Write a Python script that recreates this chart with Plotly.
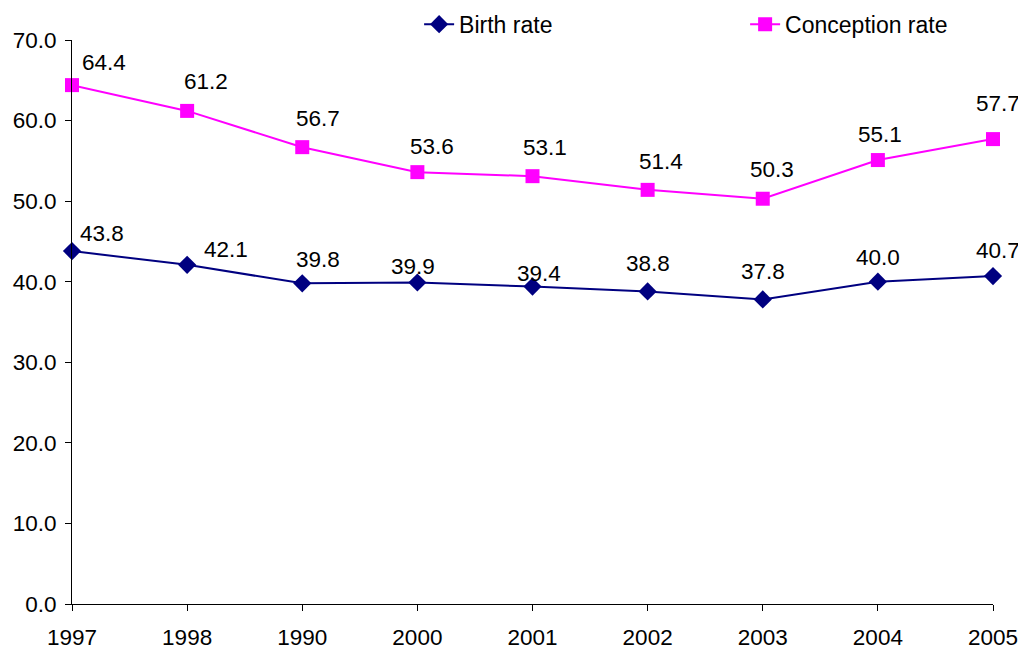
import plotly.graph_objects as go

years = ["1997", "1998", "1990", "2000", "2001", "2002", "2003", "2004", "2005"]
birth_rate = [43.8, 42.1, 39.8, 39.9, 39.4, 38.8, 37.8, 40.0, 40.7]
conception_rate = [64.4, 61.2, 56.7, 53.6, 53.1, 51.4, 50.3, 55.1, 57.7]

# label pixel offsets (style)
birth_dx = [30, 39, 16, -4, 6, 0, 0, 0, 5]
birth_dy = [18, 15, 24, 16, 13, 28, 28, 24, 26]
conc_dx = [32, 19, 16, 15, 12, 13, 9, 2, 5]
conc_dy = [23, 29, 29, 26, 29, 28, 29, 26, 36]

NAVY = "#000080"
MAGENTA = "#FF00FF"
FONT = "Liberation Sans, Arial, sans-serif"
FS = 22.5

fig = go.Figure()
fig.add_trace(go.Scatter(
    x=years, y=birth_rate, name="Birth rate", mode="lines+markers",
    line=dict(color=NAVY, width=2),
    marker=dict(symbol="diamond", size=14, color=NAVY),
    cliponaxis=False,
))
fig.add_trace(go.Scatter(
    x=years, y=conception_rate, name="Conception rate", mode="lines+markers",
    line=dict(color=MAGENTA, width=2),
    marker=dict(symbol="square", size=14, color=MAGENTA),
    cliponaxis=False,
))

annotations = []
for i, y in enumerate(years):
    annotations.append(dict(x=i, y=birth_rate[i], xref="x", yref="y",
                            text=f"{birth_rate[i]:.1f}",
                            showarrow=False, xshift=birth_dx[i], yshift=birth_dy[i],
                            font=dict(size=FS, color="black", family=FONT)))
    annotations.append(dict(x=i, y=conception_rate[i], xref="x", yref="y",
                            text=f"{conception_rate[i]:.1f}",
                            showarrow=False, xshift=conc_dx[i], yshift=conc_dy[i],
                            font=dict(size=FS, color="black", family=FONT)))

fig.update_layout(
    width=1026, height=650,
    margin=dict(l=64, r=41, t=32, b=54, pad=0, autoexpand=False),
    paper_bgcolor="white", plot_bgcolor="white",
    font=dict(family=FONT, size=FS, color="black"),
    annotations=annotations,
    showlegend=True,
    legend=dict(
        orientation="h", xref="container", yref="container",
        x=0.4007, y=0.975, xanchor="left", yanchor="middle",
        font=dict(size=23, family=FONT),
        entrywidth=281, entrywidthmode="pixels",
        bgcolor="rgba(0,0,0,0)",
    ),
    xaxis=dict(
        type="category", range=[0, 8], automargin=False,
        showgrid=False, zeroline=False,
        showline=True, linecolor="black", linewidth=1,
        ticks="outside", ticklen=6, tickcolor="black",
        ticklabelstandoff=7,
        tickfont=dict(size=FS, family=FONT),
    ),
    yaxis=dict(
        range=[0, 70], dtick=10, tickformat=".1f", automargin=False,
        showgrid=False, zeroline=False,
        showline=True, linecolor="black", linewidth=1,
        ticks="outside", ticklen=6, tickcolor="black",
        ticklabelstandoff=4,
        tickfont=dict(size=FS, family=FONT),
    ),
)

fig.write_html("out.html")
